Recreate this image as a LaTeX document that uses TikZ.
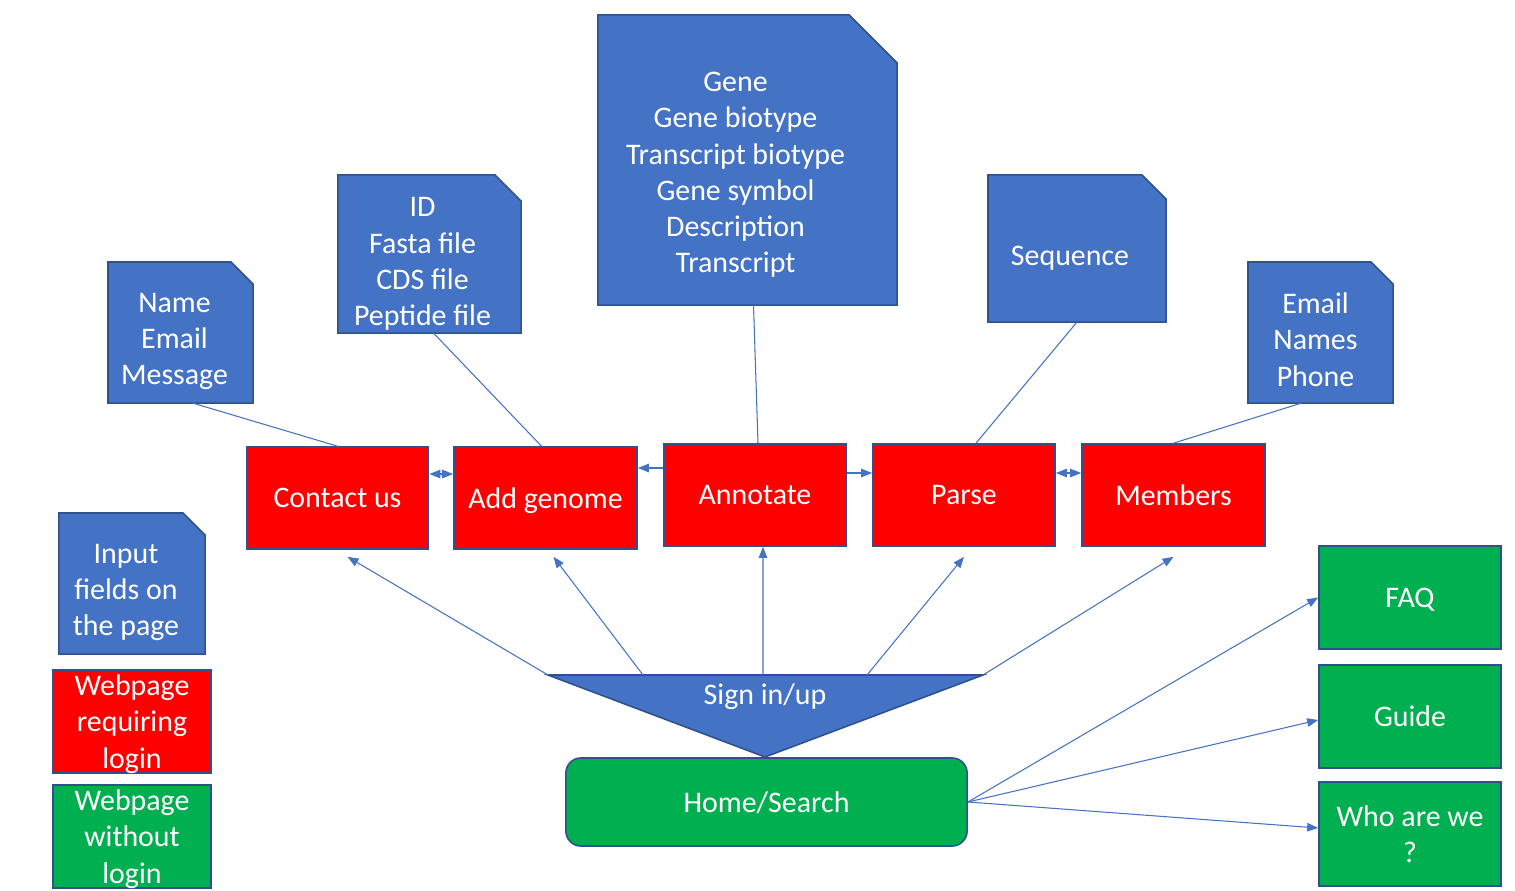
\documentclass[tikz,border=0pt]{standalone}
\usepackage{fontspec}
\setmainfont{Carlito}
\usetikzlibrary{positioning}
\usetikzlibrary{backgrounds}
\usetikzlibrary{arrows.meta}
\definecolor{docblue}{HTML}{4472C4}
\definecolor{edgeblue}{HTML}{2F528F}
\definecolor{pagered}{HTML}{FF0000}
\definecolor{pagegreen}{HTML}{00B050}

\tikzset{
 page/.style={draw=edgeblue, line width=0.45pt, text=white, align=center, inner sep=0pt, text depth=0pt, font=\fontsize{8.5}{10.3}\selectfont},
 loginpage/.style={page, fill=pagered, minimum width=1.82cm, minimum height=1.02cm},
 openpage/.style={page, fill=pagegreen, minimum width=1.82cm, minimum height=1.03cm},
 fields/.style={inner sep=0pt, outer sep=0pt},
 folded/.style={draw=edgeblue, line width=0.45pt, fill=docblue},
 fieldtext/.style={text=white, align=center, inner sep=0pt, font=\fontsize{8.5}{10.3}\selectfont},
 link/.style={docblue, line width=0.3pt},
 goto/.style={link, -{Triangle[length=0.11cm,width=0.085cm]}},
 both/.style={link, {Triangle[length=0.11cm,width=0.085cm]}-{Triangle[length=0.11cm,width=0.085cm]}},
}

% sheet with its top right corner cut off
\newcommand{\foldcorner}[2]{%
 \begin{scope}[on background layer]
 \draw[folded] (#1.south west) -- (#1.north west) -- ([xshift=-#2]#1.north east)
   -- ([yshift=-#2]#1.north east) -- (#1.south east) -- cycle;
 \end{scope}}

\begin{document}
\begin{tikzpicture}[x=0.01cm, y=-0.01cm]

\useasboundingbox (0,0) rectangle (1515,891);

% pages that need a login
\node[loginpage] (contact) at (337.5,498) {Contact us};
\node[loginpage, minimum width=1.83cm] (addg) at (545.5,498) {Add genome};
\node[loginpage] (annot) at (755,495) {Annotate};
\node[loginpage] (parse) at (964,495) {Parse};
\node[loginpage, minimum width=1.83cm] (members) at (1173.5,495) {Members};

% input fields
\node[fields, minimum width=1.45cm, minimum height=1.41cm,
  label={[fieldtext, name=nametext, xshift=-0.06cm, yshift=-0.09cm]center:Name\\Email\\Message}] (namedoc) at (180.5,332.5) {};
\node[fields, minimum width=1.83cm, minimum height=1.58cm,
  label={[fieldtext, name=idtext, xshift=-0.07cm, yshift=-0.1cm]center:ID\\Fasta file\\CDS file\\Peptide file}] (iddoc) at (429.5,254) {};
\node[fields, minimum width=2.99cm, minimum height=2.90cm,
  label={[fieldtext, name=genetext, xshift=-0.12cm, yshift=-0.15cm]center:Gene\\Gene biotype\\Transcript biotype\\Gene symbol\\Description\\Transcript}] (genedoc) at (747.5,160) {};
\node[fields, minimum width=1.78cm, minimum height=1.47cm,
  label={[fieldtext, name=seqtext, xshift=-0.07cm, yshift=-0.1cm]center:Sequence}] (seqdoc) at (1077,248.5) {};
\node[fields, minimum width=1.45cm, minimum height=1.41cm,
  label={[fieldtext, name=mailtext, xshift=-0.05cm, yshift=-0.07cm]center:Email\\Names\\Phone}] (maildoc) at (1320.5,332.5) {};

\foldcorner{namedoc}{0.22cm}
\foldcorner{iddoc}{0.26cm}
\foldcorner{genedoc}{0.48cm}
\foldcorner{seqdoc}{0.24cm}
\foldcorner{maildoc}{0.22cm}

\draw[link] ([xshift=0.12cm]namedoc.south) -- (contact.north);
\draw[link] ([xshift=0.04cm]iddoc.south) -- ([xshift=-0.04cm]addg.north);
\draw[link] ([xshift=0.06cm]genedoc.south) -- ([xshift=0.03cm]annot.north);
\draw[link] (seqdoc.south) -- ([xshift=0.12cm]parse.north);
\draw[link] ([xshift=-0.19cm]maildoc.south) -- (members.north);

% links between the pages
\draw[both] (contact.east |- 0,474) -- (addg.west |- 0,474);
\draw[goto] (annot.west |- 0,468) -- (addg.east |- 0,468);
\draw[goto] (annot.east |- 0,473) -- (parse.west |- 0,473);
\draw[both] (parse.east |- 0,473) -- (members.west |- 0,473);

% sign in
\coordinate (sl) at (548,675);
\coordinate (sr) at (983,675);
\coordinate (sp) at (765,757);
\draw[edgeblue, fill=docblue, line width=0.45pt] (sl) -- (sr) -- (sp) -- cycle;
\node[text=white, font=\fontsize{8.5}{10.3}\selectfont] (sign) at (765,697) {Sign in/up};

\coordinate (s2) at (643,675);
\coordinate (s3) at (763,675);
\coordinate (s4) at (867,675);
\draw[goto] (sl) -- ([xshift=0.1cm,yshift=-0.07cm]contact.south);
\draw[goto] (s2) -- ([xshift=0.08cm,yshift=-0.07cm]addg.south);
\draw[goto] (s3) -- ([xshift=0.08cm]annot.south);
\draw[goto] (s4) -- ([yshift=-0.1cm]parse.south);
\draw[goto] (sr) -- ([yshift=-0.1cm]members.south);

% pages without login
\node[page, fill=pagegreen, minimum width=4.01cm, minimum height=0.88cm, rounded corners=0.15cm] (home) at (766.5,802) {Home/Search};
\node[openpage] (faq) at (1410,597.5) {FAQ};
\node[openpage] (guide) at (1410,716.5) {Guide};
\node[openpage, minimum height=1.04cm] (who) at (1410,834) {Who are we\\?};

\draw[goto] (home.east) -- (faq.west);
\draw[goto] (home.east) -- ([yshift=-0.035cm]guide.west);
\draw[goto] (home.east) -- ([yshift=0.06cm]who.west);

% legend
\node[fields, minimum width=1.46cm, minimum height=1.41cm,
  label={[fieldtext, name=inputtext, xshift=-0.06cm, yshift=-0.09cm]center:Input\\fields on\\the page}] (inputdoc) at (132,583.5) {};
\foldcorner{inputdoc}{0.22cm}
\node[page, fill=pagered, minimum width=1.58cm, minimum height=1.03cm] (reqlogin) at (132,721.5) {Webpage\\requiring\\login};
\node[page, fill=pagegreen, minimum width=1.58cm, minimum height=1.03cm] (nologin) at (132,836.5) {Webpage\\without\\login};

\end{tikzpicture}
\end{document}
